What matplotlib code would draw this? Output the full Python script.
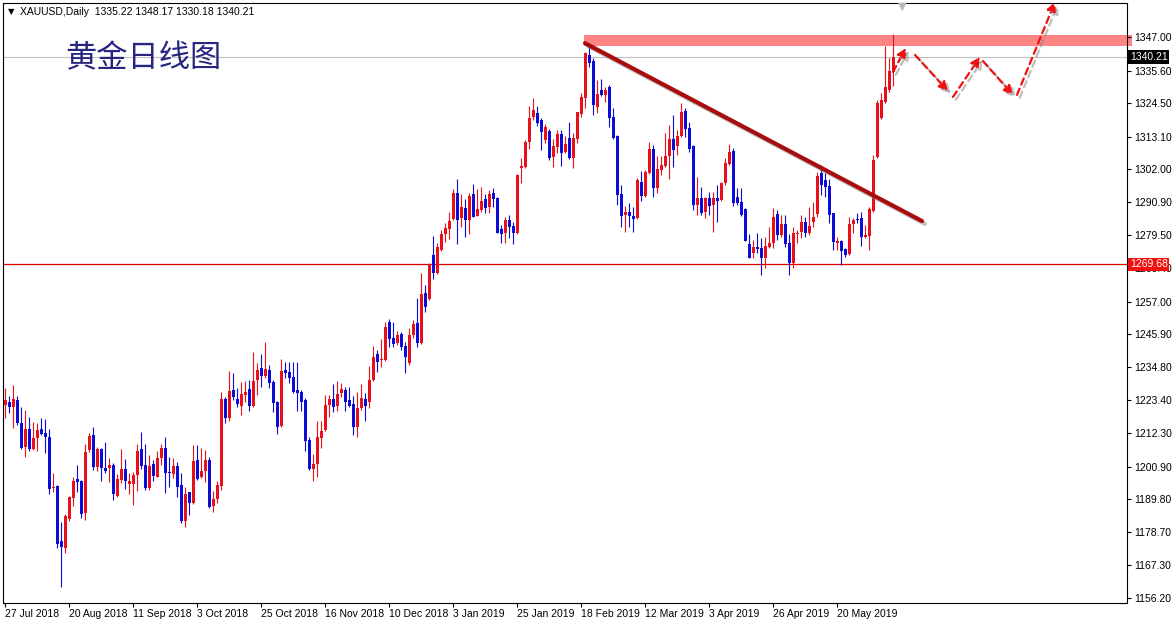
import numpy as np
import matplotlib.pyplot as plt
import matplotlib.patheffects as pe
from matplotlib.patches import Rectangle

# daily XAUUSD candles, 27 Jul 2018 .. 7 Jun 2019
opens = [1221.9, 1223.0, 1221.3, 1223.6, 1215.8, 1207.7, 1213.6, 1206.9, 1210.5, 1213.6,
         1212.4, 1211.1, 1193.5, 1194.3, 1175.6, 1173.3, 1183.1, 1190.3, 1196.7, 1196.0,
         1185.2, 1206.5, 1211.6, 1200.9, 1206.8, 1200.5, 1200.3, 1201.4, 1191.0, 1196.3,
         1200.0, 1194.9, 1195.0, 1198.0, 1206.9, 1201.4, 1193.7, 1201.7, 1197.5, 1203.7,
         1207.3, 1199.2, 1198.4, 1201.1, 1194.6, 1182.4, 1192.1, 1188.4, 1203.1, 1197.5,
         1199.5, 1203.1, 1187.5, 1190.0, 1194.3, 1223.9, 1217.5, 1226.9, 1223.9, 1221.5,
         1225.2, 1227.3, 1221.5, 1230.3, 1234.3, 1231.8, 1233.8, 1229.8, 1223.0, 1214.7,
         1233.8, 1233.2, 1231.5, 1226.9, 1226.4, 1223.5, 1209.9, 1200.1, 1201.8, 1210.7,
         1213.4, 1221.9, 1223.9, 1221.5, 1225.8, 1227.0, 1223.6, 1222.2, 1214.5, 1220.9,
         1223.9, 1222.8, 1230.4, 1239.2, 1237.2, 1237.2, 1249.9, 1244.5, 1242.8, 1246.0,
         1241.9, 1236.0, 1245.7, 1249.6, 1242.8, 1259.8, 1257.8, 1272.9, 1266.6, 1274.6,
         1279.9, 1281.7, 1285.0, 1294.1, 1285.6, 1289.0, 1284.8, 1293.5, 1286.2, 1288.2,
         1291.8, 1289.3, 1294.1, 1292.1, 1281.6, 1280.2, 1284.8, 1282.7, 1280.5, 1302.6,
         1302.9, 1311.4, 1319.7, 1321.3, 1318.8, 1312.0, 1315.1, 1306.3, 1309.7, 1314.0,
         1308.0, 1312.5, 1305.7, 1312.3, 1320.7, 1326.1, 1340.9, 1338.8, 1323.3, 1329.0,
         1327.3, 1329.9, 1319.9, 1313.3, 1293.6, 1286.5, 1287.4, 1286.1, 1285.6, 1297.8,
         1293.0, 1300.9, 1308.8, 1295.8, 1301.8, 1303.1, 1306.5, 1312.2, 1309.9, 1313.3,
         1321.9, 1315.9, 1309.9, 1289.9, 1292.4, 1287.6, 1292.1, 1289.9, 1292.1, 1291.6,
         1297.5, 1303.7, 1308.3, 1292.7, 1291.0, 1288.4, 1276.6, 1273.7, 1275.7, 1275.1,
         1272.0, 1275.7, 1276.8, 1286.8, 1279.7, 1283.4, 1276.8, 1270.3, 1280.0, 1280.8,
         1284.2, 1280.5, 1284.2, 1286.8, 1300.6, 1298.4, 1296.3, 1287.0, 1276.8, 1277.6,
         1274.8, 1273.1, 1283.3, 1285.0, 1285.3, 1279.1, 1279.3, 1287.9, 1306.1, 1319.3,
         1325.0, 1329.0, 1335.22]
highs = [1227.5, 1224.9, 1228.7, 1224.9, 1221.3, 1220.2, 1217.9, 1216.2, 1215.6, 1217.3,
         1217.0, 1213.6, 1198.6, 1194.6, 1181.9, 1184.7, 1190.9, 1197.2, 1201.4, 1196.3,
         1208.6, 1212.4, 1214.3, 1207.5, 1207.1, 1209.4, 1203.7, 1202.0, 1198.4, 1206.9,
         1203.5, 1198.6, 1199.2, 1208.6, 1212.6, 1208.6, 1204.8, 1203.1, 1206.3, 1208.5,
         1211.1, 1204.3, 1203.7, 1202.6, 1198.6, 1194.1, 1192.4, 1208.2, 1208.2, 1207.1,
         1206.5, 1204.3, 1192.5, 1196.0, 1226.4, 1224.7, 1233.4, 1232.6, 1227.5, 1229.8,
         1230.0, 1230.3, 1239.8, 1236.0, 1239.2, 1243.2, 1235.5, 1230.3, 1223.3, 1237.4,
         1236.4, 1236.4, 1236.4, 1236.4, 1226.9, 1224.1, 1211.1, 1205.2, 1216.4, 1216.4,
         1225.3, 1225.3, 1229.0, 1230.0, 1229.2, 1228.1, 1227.9, 1225.0, 1226.2, 1228.9,
         1225.8, 1235.2, 1241.9, 1240.6, 1244.3, 1250.2, 1251.1, 1249.9, 1247.1, 1246.8,
         1243.4, 1247.9, 1250.8, 1258.1, 1266.6, 1262.7, 1270.0, 1279.3, 1277.1, 1281.4,
         1283.6, 1287.6, 1295.2, 1298.6, 1293.5, 1291.8, 1293.8, 1296.9, 1295.2, 1296.1,
         1293.5, 1295.0, 1295.5, 1292.7, 1283.1, 1285.9, 1286.5, 1284.2, 1300.4, 1305.7,
         1312.0, 1323.5, 1326.1, 1323.5, 1319.3, 1317.4, 1315.6, 1312.2, 1315.4, 1315.4,
         1313.3, 1318.0, 1314.2, 1321.6, 1327.8, 1342.0, 1344.9, 1339.7, 1332.4, 1332.6,
         1330.1, 1330.7, 1322.7, 1313.7, 1296.7, 1289.5, 1290.7, 1289.3, 1298.9, 1301.4,
         1301.8, 1311.4, 1310.3, 1306.6, 1306.6, 1314.2, 1317.1, 1320.5, 1315.4, 1324.4,
         1322.7, 1318.2, 1310.3, 1299.5, 1296.1, 1292.7, 1294.4, 1294.4, 1296.7, 1297.8,
         1305.7, 1310.6, 1309.1, 1295.5, 1295.5, 1288.7, 1280.0, 1278.0, 1280.2, 1278.5,
         1278.9, 1282.5, 1288.7, 1288.2, 1286.5, 1286.5, 1279.9, 1282.5, 1281.4, 1286.5,
         1285.9, 1289.3, 1291.0, 1301.2, 1303.5, 1300.6, 1298.6, 1287.3, 1279.1, 1278.0,
         1275.1, 1285.9, 1285.3, 1287.0, 1287.6, 1283.1, 1289.3, 1306.9, 1325.6, 1328.1,
         1343.9, 1339.7, 1348.17]
lows = [1217.3, 1219.0, 1213.9, 1215.0, 1206.9, 1204.3, 1206.2, 1206.5, 1206.3, 1211.6,
        1205.4, 1191.6, 1192.4, 1173.3, 1160.1, 1171.6, 1182.5, 1187.5, 1192.4, 1183.3,
        1182.7, 1206.0, 1199.7, 1199.5, 1196.1, 1198.6, 1195.8, 1189.5, 1190.7, 1195.4,
        1193.2, 1191.5, 1187.8, 1192.6, 1200.0, 1192.9, 1192.9, 1196.0, 1197.2, 1201.4,
        1191.8, 1194.1, 1196.9, 1190.7, 1181.6, 1180.5, 1184.4, 1188.2, 1196.3, 1196.9,
        1195.8, 1186.7, 1185.5, 1188.5, 1192.9, 1215.6, 1216.5, 1223.5, 1221.3, 1218.4,
        1223.0, 1219.8, 1221.3, 1225.2, 1227.9, 1230.9, 1227.5, 1219.6, 1211.9, 1214.5,
        1230.9, 1229.2, 1225.8, 1219.9, 1219.9, 1206.3, 1199.7, 1196.1, 1197.5, 1207.3,
        1213.0, 1217.9, 1219.6, 1219.8, 1224.7, 1219.8, 1221.3, 1211.6, 1211.1, 1220.2,
        1216.5, 1220.9, 1230.1, 1233.2, 1234.7, 1236.9, 1241.4, 1241.7, 1242.3, 1240.6,
        1232.6, 1235.5, 1244.5, 1241.5, 1242.6, 1253.6, 1257.6, 1264.6, 1266.4, 1274.2,
        1277.4, 1278.3, 1284.8, 1276.5, 1282.5, 1279.1, 1279.9, 1285.7, 1286.1, 1287.6,
        1287.0, 1287.3, 1289.3, 1280.2, 1276.8, 1276.8, 1278.5, 1276.5, 1280.0, 1297.5,
        1302.6, 1308.8, 1318.8, 1316.7, 1308.6, 1310.8, 1305.2, 1302.7, 1307.7, 1303.2,
        1307.4, 1305.4, 1302.3, 1311.1, 1319.7, 1322.7, 1336.7, 1320.5, 1321.3, 1326.9,
        1325.0, 1316.5, 1312.2, 1289.9, 1282.5, 1280.8, 1282.5, 1280.8, 1285.0, 1291.2,
        1292.7, 1300.4, 1292.7, 1294.1, 1300.1, 1302.7, 1298.6, 1302.9, 1306.9, 1313.1,
        1313.1, 1308.0, 1288.2, 1286.5, 1286.5, 1285.3, 1286.5, 1280.8, 1284.2, 1291.3,
        1296.7, 1303.5, 1289.5, 1289.9, 1286.1, 1277.6, 1271.7, 1271.7, 1273.4, 1266.1,
        1268.6, 1275.1, 1275.1, 1278.0, 1279.1, 1275.7, 1266.1, 1268.3, 1276.8, 1278.5,
        1279.1, 1279.7, 1282.5, 1285.9, 1293.3, 1292.7, 1283.9, 1274.6, 1274.6, 1269.5,
        1272.3, 1272.9, 1280.2, 1283.6, 1275.9, 1278.5, 1274.6, 1287.6, 1305.7, 1319.0,
        1324.4, 1328.4, 1330.18]
closes = [1223.6, 1221.3, 1223.8, 1215.6, 1207.3, 1213.6, 1206.8, 1210.5, 1213.3, 1212.0,
          1211.1, 1193.2, 1194.1, 1174.5, 1173.7, 1184.2, 1190.7, 1196.0, 1195.5, 1184.8,
          1206.0, 1211.4, 1200.9, 1206.8, 1200.3, 1199.4, 1201.4, 1191.5, 1196.6, 1200.0,
          1196.1, 1196.0, 1198.0, 1206.2, 1201.2, 1193.7, 1201.1, 1197.8, 1203.9, 1207.3,
          1198.8, 1198.6, 1201.1, 1194.1, 1182.4, 1191.6, 1188.4, 1202.8, 1196.7, 1199.5,
          1203.1, 1187.3, 1190.0, 1194.6, 1223.9, 1217.5, 1226.6, 1224.7, 1222.1, 1225.5,
          1226.4, 1221.5, 1230.0, 1233.8, 1231.7, 1234.1, 1229.2, 1222.6, 1214.5, 1233.4,
          1232.8, 1231.1, 1226.4, 1226.0, 1223.0, 1209.7, 1200.1, 1201.8, 1211.1, 1213.0,
          1221.9, 1223.9, 1221.3, 1225.6, 1227.3, 1222.8, 1221.6, 1214.5, 1220.7, 1224.3,
          1221.6, 1230.4, 1238.1, 1236.6, 1237.5, 1248.5, 1244.2, 1242.6, 1245.7, 1241.7,
          1238.3, 1245.7, 1249.4, 1242.8, 1259.6, 1255.3, 1269.8, 1266.6, 1275.5, 1279.9,
          1282.2, 1284.5, 1294.1, 1284.8, 1289.3, 1284.8, 1292.9, 1285.9, 1288.5, 1291.2,
          1289.0, 1293.5, 1291.8, 1280.5, 1279.9, 1284.8, 1282.5, 1280.5, 1300.1, 1303.1,
          1311.4, 1319.6, 1322.0, 1317.6, 1314.8, 1316.5, 1306.0, 1309.9, 1314.0, 1307.7,
          1310.6, 1305.7, 1312.5, 1321.4, 1326.7, 1341.4, 1338.0, 1323.7, 1327.6, 1327.3,
          1329.0, 1319.3, 1312.5, 1293.3, 1286.1, 1287.4, 1286.1, 1285.1, 1298.4, 1292.9,
          1301.2, 1308.8, 1295.8, 1302.1, 1303.5, 1306.6, 1312.2, 1308.6, 1313.3, 1321.6,
          1315.6, 1308.8, 1289.9, 1292.1, 1287.3, 1292.1, 1289.5, 1292.1, 1291.3, 1297.5,
          1304.3, 1308.0, 1290.7, 1290.4, 1286.5, 1277.7, 1272.0, 1275.7, 1274.8, 1272.0,
          1275.9, 1276.8, 1285.9, 1279.7, 1283.4, 1276.5, 1270.3, 1280.2, 1280.2, 1284.2,
          1280.5, 1282.7, 1285.9, 1299.7, 1296.7, 1296.1, 1286.5, 1277.4, 1277.6, 1274.2,
          1272.9, 1283.3, 1284.8, 1284.8, 1279.1, 1279.7, 1288.4, 1305.2, 1324.4, 1325.6,
          1330.1, 1335.4, 1340.21]

date_labels = ["27 Jul 2018", "20 Aug 2018", "11 Sep 2018", "3 Oct 2018", "25 Oct 2018",
               "16 Nov 2018", "10 Dec 2018", "3 Jan 2019", "25 Jan 2019", "18 Feb 2019",
               "12 Mar 2019", "3 Apr 2019", "26 Apr 2019", "20 May 2019"]
price_ticks = [1347.00, 1335.60, 1324.50, 1313.10, 1302.00, 1290.90, 1279.50, 1268.40,
               1257.00, 1245.90, 1234.80, 1223.40, 1212.30, 1200.90, 1189.80, 1178.70,
               1167.30, 1156.20]
last_price = 1340.21
support = 1269.68
zone = (1344.0, 1347.7)          # resistance band
trend = ([145, 229.25], [1344.9, 1284.4])
# projected path: (x0, y0, x1, y1) in bar index / price
proj = [(222.0, 1335.1, 225.25, 1343.3),
        (227.5, 1340.9, 235.75, 1328.6),
        (237.0, 1326.6, 243.75, 1340.2),
        (244.5, 1338.8, 252.0, 1327.3),
        (253.0, 1327.3, 262.5, 1358.9)]

RED = "#e8101a"
BLUE = "#0c0cd6"

plt.rcParams['font.family'] = ['Liberation Sans', 'DejaVu Sans']

fig = plt.figure(figsize=(11.75, 6.24), dpi=100)
ax = fig.add_axes([3/1175, 21/624, 1124/1175, 600/624])

o = np.array(opens)
h = np.array(highs)
l = np.array(lows)
c = np.array(closes)
x = np.arange(len(o))
col = np.where(c >= o, RED, BLUE)

ax.add_patch(Rectangle((144.75, zone[0]), 137, zone[1] - zone[0], facecolor="#ff8484",
                       edgecolor="none", clip_on=False, zorder=1))
ax.axhline(last_price, color="#c0c0c0", lw=0.8, zorder=1)
ax.axhline(support, color="#e00000", lw=0.9, zorder=1)

ax.vlines(x, l, h, colors=col, lw=0.8, zorder=2)
ax.bar(x, np.maximum(np.abs(c - o), 0.35), bottom=np.minimum(o, c), width=0.75,
       color=col, linewidth=0, zorder=3)

shadow = [pe.SimpleLineShadow(offset=(2, -2), shadow_color="#808080", alpha=0.5), pe.Normal()]
ax.plot(trend[0], trend[1], color="#a80c0c", lw=3, solid_capstyle="round",
        path_effects=shadow, zorder=4)

for x0, y0, x1, y1 in proj:
    a = ax.annotate("", xy=(x1, y1), xytext=(x0, y0), annotation_clip=False,
                    arrowprops=dict(arrowstyle="-|>", color="#f01010", lw=1.6,
                                    linestyle=(0, (3, 2)), mutation_scale=13,
                                    shrinkA=0, shrinkB=0), zorder=5)
    a.arrow_patch.set_path_effects(shadow)

ax.set_xlim(-0.5, 280.5)
ax.set_ylim(1154.5, 1358.56)

ax.yaxis.tick_right()
ax.set_yticks(price_ticks)
ax.set_yticklabels([f"{p:.2f}" for p in price_ticks])
ax.set_xticks(np.arange(len(date_labels)) * 16)
ax.set_xticklabels(date_labels)
for t in ax.get_xticklabels():
    t.set_ha("left")
ax.tick_params(axis="y", length=3, width=0.8, labelsize=7.5, pad=2)
ax.tick_params(axis="x", length=3, width=0.8, labelsize=7.5, pad=1)
for s in ax.spines.values():
    s.set_linewidth(0.8)

tr = ax.get_yaxis_transform()
ax.text(1.0025, last_price, "1340.21", transform=tr, va="center", ha="left", fontsize=7.5,
        color="white", bbox=dict(boxstyle="square,pad=0.15", fc="black", ec="none"))
ax.text(1.0025, support, "1269.68", transform=tr, va="center", ha="left", fontsize=7.5,
        color="white", bbox=dict(boxstyle="square,pad=0.15", fc="#f01010", ec="none"))

fig.text(8/1175, 1 - 12/624, "\u25bc", fontsize=6, family=["DejaVu Sans"], va="center")
fig.text(20/1175, 1 - 12/624, "XAUUSD,Daily  1335.22 1348.17 1330.18 1340.21",
         fontsize=7.5, va="center")
fig.text(902/1175, 1 - 7/624, "\u25bc", fontsize=8, family=["DejaVu Sans"], color="#b8b8b8",
         va="center", ha="center")
ax.text(62/1124, 1 - 55/600, "黄金日线图", transform=ax.transAxes, fontsize=22.5,
        family=["Noto Sans CJK SC", "DejaVu Sans"], color="#262680", va="center", zorder=6)

fig.savefig("out.png", dpi=100)
